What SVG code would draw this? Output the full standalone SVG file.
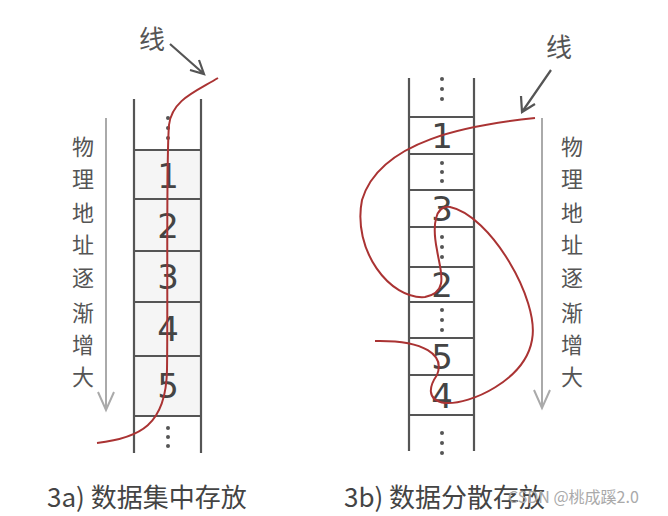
<svg xmlns="http://www.w3.org/2000/svg" width="668" height="516" viewBox="0 0 668 516">
<style>
.ln{stroke:#555;stroke-width:2.2;fill:none}
.gr{stroke:#aaa;stroke-width:2;fill:none}
.red{stroke:#a33;stroke-width:2;fill:none}
.num{font-family:"DejaVu Sans",sans-serif;font-size:34px;fill:#444;text-anchor:middle}
.cj{font-family:"Noto Sans CJK SC",sans-serif;font-size:22px;fill:#555;text-anchor:middle}
.cap{font-family:"Noto Sans CJK SC",sans-serif;font-size:26px;fill:#444}
.dot{fill:#555}
</style>
<rect width="668" height="516" fill="#fff"/>
<g id="memA">
<rect x="134" y="150" width="67" height="266" fill="#f5f5f5"/>
<path class="ln" d="M134,99V453M201,99V453M134,150H201M134,199H201M134,251H201M134,302H201M134,356H201M134,416H201"/>
<g class="dot"><circle cx="168" cy="118" r="2"/><circle cx="168" cy="128" r="2"/><circle cx="168" cy="138" r="2"/><circle cx="168" cy="428" r="2"/><circle cx="168" cy="437" r="2"/><circle cx="168" cy="446" r="2"/></g>
<text class="num" x="168" y="188">1</text><text class="num" x="168" y="238">2</text><text class="num" x="168" y="289">3</text><text class="num" x="168" y="341">4</text><text class="num" x="168" y="398">5</text>
</g>
<g id="addrA">
<path class="gr" d="M106,118V410M98,392L106,410L114,392"/>
<g class="cj"><text x="83" y="155">物</text><text x="83" y="187">理</text><text x="83" y="221">地</text><text x="83" y="253">址</text><text x="83" y="286">逐</text><text x="83" y="321">渐</text><text x="83" y="353">增</text><text x="83" y="385">大</text></g>
</g>
<g id="memB">
<path class="ln" d="M409,78V451M474,78V451M409,117H474M409,154H474M409,190H474M409,227H474M409,267H474M409,302H474M409,338H474M409,375H474M409,415H474"/>
<g class="dot"><circle cx="442" cy="79" r="2"/><circle cx="442" cy="89" r="2"/><circle cx="442" cy="99" r="2"/><circle cx="442" cy="163" r="2"/><circle cx="442" cy="172" r="2"/><circle cx="442" cy="181" r="2"/><circle cx="442" cy="237" r="2"/><circle cx="442" cy="247" r="2"/><circle cx="442" cy="257" r="2"/><circle cx="442" cy="310" r="2"/><circle cx="442" cy="320" r="2"/><circle cx="442" cy="330" r="2"/><circle cx="442" cy="433" r="2"/><circle cx="442" cy="443" r="2"/><circle cx="442" cy="453" r="2"/></g>
<text class="num" x="442" y="148">1</text><text class="num" x="442" y="221">3</text><text class="num" x="442" y="297">2</text><text class="num" x="442" y="369">5</text><text class="num" x="442" y="408">4</text>
</g>
<g id="addrB">
<path class="gr" d="M542,118V408M534,390L542,408L550,390"/>
<g class="cj"><text x="572" y="155">物</text><text x="572" y="187">理</text><text x="572" y="221">地</text><text x="572" y="253">址</text><text x="572" y="286">逐</text><text x="572" y="321">渐</text><text x="572" y="353">增</text><text x="572" y="385">大</text></g>
</g>
<g id="labels">
<text class="cj" x="152" y="49" style="font-size:26px">线</text>
<text class="cj" x="559" y="57" style="font-size:26px">线</text>
<text class="cap" x="47" y="507">3a) 数据集中存放</text>
<text class="cap" x="344" y="507">3b) 数据分散存放</text>
<text x="508" y="503" style="font-family:'Noto Sans CJK SC',sans-serif;font-size:16px;fill:#aaa">CSDN @桃成蹊2.0</text>
</g>
<g id="connectors">
<path class="ln" d="M170,44L204,74M190,70L204,74L199,60" stroke-width="2.5"/>
<path class="ln" d="M551,70L522,112M521,96L522,112L535,104" stroke-width="2.5"/>
<path class="red" d="M218,78C195,92 172,100 169,125C166,160 168,300 167,370C166,425 140,438 97,443"/>
<path class="red" d="M535,118C470,125 380,140 362,200C352,250 390,300 425,297C450,292 440,270 437,250C432,225 435,205 450,207C490,215 540,300 532,340C525,380 470,405 445,403C425,400 430,385 437,375C445,355 425,340 375,341"/>
</g>
</svg>
